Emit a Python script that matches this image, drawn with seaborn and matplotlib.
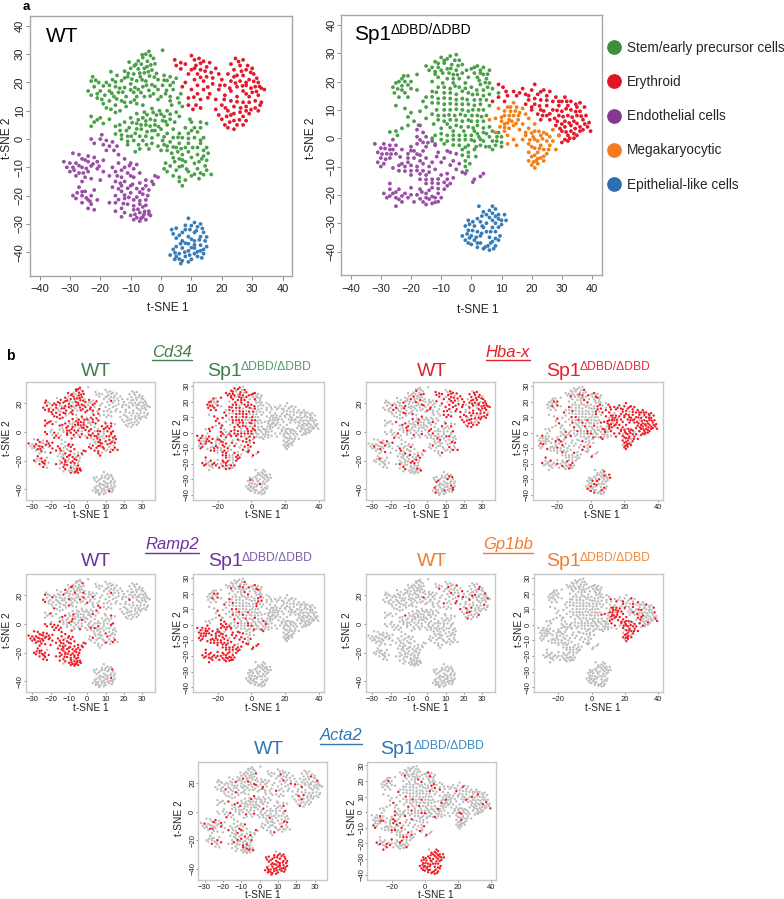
import numpy as np
import pandas as pd
import matplotlib
matplotlib.use('Agg')
import matplotlib.pyplot as plt
from matplotlib.lines import Line2D
import seaborn as sns

# cell positions (t-SNE 1, t-SNE 2)
wt_green = [(0.5,31.4),(-4,31),(-5,30),(-3.5,29.5),(-6,28.8),(-2.5,28.5),(-7.5,27.6),(-4.5,27.5),(-10.5,27.2),(-2,26.6),(-6.5,26.5),(-8.8,25.9),(-4.6,25.6),(-10,25),(-7.5,24.8),(-3,24.4),
(-16.5,23.8),(-12,24),(-5.5,23.4),(-9,23),(-1.5,23.2),(-14.5,22.5),(-11,22),(-6.8,22),(-3.8,22.3),(1,22.5),(3,22),(-22.5,22),(-16,21),(-13,20.6),(-8,20.6),(-5,20.5),(-1,21),(2,20.7),(5,21.5),
(-23,20.5),(-20.5,20),(-18,20),(-10,19.5),(-3,19.2),(0.5,19),(3,19),(-22,18.5),(-15,18.5),(-12,18.2),(-6,18.5),(-7.5,17.5),(-4,17.2),(-1,17.5),(1.8,17.2),(4,17.5),(6.5,16),
(-24,17),(-20,17),(-17,17),(-14,16.5),(-9,16.5),(-2.5,16),(-23,15.5),(-18.5,15.5),(-15.5,15),(-11.5,15),(-8,15),(-5.5,15),(0,15),(3,15),(5.5,14.5),
(-21,14.5),(-17,13.5),(-13,13.5),(-10,13),(-19,12.5),(-15,12),(-11.5,11.5),(-8,12.5),(3.5,12),(7,11.5),(-16.5,10.5),(-13.5,10),(-3,10.8),(-0.5,10),(2,10),(5,9.5),
(-5.5,9.5),(-8,9),(-1.5,8.5),(1,8),(-23,8),(-20,7.5),(-17,7),(-10,7.5),(-6,7.5),(-3.5,7),(0.5,6.5),(3,7),(6,8),(9.5,7),
(-22,6),(-19,5.5),(-12,6),(-8,5.5),(-5,5),(-2,5),(2,5),(10,6),(13,6),(15,5.5),(-23,4.5),(-15,4.5),(-10.5,4),(-6.5,3.5),(-3,3),(0,3.5),(4,3.5),(8,4),(11,4),
(-13.5,3),(-8.5,2),(-1,1.5),(2,2),(6,2),(9,2),(12,2.5),(-15,1.8),(-11,1),(-5,1),(4,0.5),(7,0.5),(11,0.5),(14,0.5),(-13,0),(-9,-0.5),(-6,-0.5),(0.5,-0.5),(3,-1),(6,-1.5),(9,-1.5),(13,-1.5),
(-11,-2),(-3,-1.5),(-1,-2.5),(2,-2.5),(5,-3),(8,-3),(12,-3),(15,-3),(-7,-3.5),(-4,-3.5),(0,-4),(5.5,-4.5),(9,-4.5),(15.5,-5),(-8.5,-4.5),(3.5,-5),(7,-5.5),(12,-5.5),(14,-6),
(6,-7),(10,-6.5),(15,-7.5),(4.5,-8),(8,-8),(12.5,-8),(1.5,-8.5),(3,-9.5),(7,-9.5),(14.5,-9.5),(1,-10.5),(5,-11),(12,-10.5),(15,-11),(2,-11.5),(9,-11.5),(13,-12),(16.5,-12.5),(6,-13.5),(10,-13),(12.5,-14),(6,-15),(8,-14.5),(7,-16.5),
(-6.2,29.8),(-8.3,26.4),(-5.5,25),(-3.4,26.2),(-7,23.3),(-10.8,23.2),(-4.2,23.8),(-2.2,21.9),(-6.2,20.9),(-9.6,21.2),(-12,21.6),(-15,20.2),(-21.5,20.8),(-19,18.8),(-17,19),(-13.6,18),(-8.6,18.2),(-4.8,19),(-2,18.6),(1,20.8),(4,20),(-21,16),(-16.2,16.2),(-12.6,16.6),(-10,17.4),(-6.6,16.4),(-3.6,15.2),(-1,14),(1.5,16),(3,13.5),(6,12.8),
(-19.5,14),(-14.6,14.2),(-12,13),(-8.8,13.8),(-6,12),(-18,11),(-15,9.4),(-4.6,8.6),(-2.6,9.4),(0,8.8),(3,8.8),(-7.5,6.8),(-5,6.4),(-2,6.6),(1.5,6.2),(4.5,6),(-21,6.8),(-13.6,5),(-9.5,5.8),(-6.6,5),(-3.6,4.6),(-0.8,4.4),(-11.4,3),(-8,3.6),(-4.6,2.6),(-2,3),(10,3),(13,4),(-13,1.4),(-9.8,1),(-7,1),(-3,0.4),(1,0.8),(5.6,0.6),(9,0.2),(13,-0.4),(-11,-0.8),(-7.4,-2),(-4.8,-2),(1,-2),(4,-2.8),(6.6,-3.4),(10.4,-3),(14,-4),(2,-4),(7,-7.4),(11,-8.6),(13.4,-7),(4,-6.6),(8.4,-10.6),(6,-9.8),(11,-12.4),(14,-12.6),(4,-13)]
wt_red = [(10,29.5),(12.5,28.5),(4.5,28),(14,27.5),(16,27),(24.5,28.5),(27,28),(5,26),(8,26.5),(11.5,26),(15,25.5),(18,25),(23,26.5),(26,26),(6.5,24.8),(10,24.5),(13,24.5),(16.5,23.5),(24,24.5),(28,24.5),(30,25),
(9,23),(12,23),(15,22),(19,23),(22,23),(25,22.5),(27,22.5),(30.5,23),(31.5,21.5),(11,21),(14,20.5),(20,21),(23,20.5),(26,20.5),(29,21),(32,20),(8,20),(12,19),(17,19.5),(21,19),(25,18.5),(28,19),(31,18.5),(33,18),
(7,18.5),(10,17.5),(14,17.5),(19,17.5),(23,17),(27,17),(30,16.5),(34,17.5),(12,16),(16,16),(21,15.5),(25,15),(29,15),(32,15.5),(9,14.5),(13,14),(18,14),(23,13.5),(27,13),(31,13.5),(33,13),
(9,12),(11.5,12),(20,12),(24,11.5),(28,11.5),(31,11),(10.5,10.5),(13,11),(18,10.5),(22,10),(26,9.5),(32,10),(19,8.5),(23,8.5),(27,8),(29,9),(20,7),(24,6.5),(28,6.5),(21,5),(25,5),(27,5),(24,3.5),(22,4),
(11,28),(6.5,27),(13,26.8),(25.5,27.4),(28.5,26),(11,25),(14.5,24),(26.5,24),(29.5,23.6),(13,21.8),(17,21.6),(24,22),(28,20),(30.5,20.4),(24.5,19.8),(26.8,18.8),(29.6,18),(32.4,18.6),(15.4,18.4),(19.4,19),(22.6,18),(28,16),(31.4,16.8),(10.8,14.8),(15.4,14.6),(20.8,14),(25,13.2),(29,13),(32.6,12),(21.2,11),(26.2,11),(29.6,10.4),(24,9),(28,10),(21.6,8),(25.8,6.8),(22.6,6)]
wt_purple = [(-19.5,1.5),(-23,0),(-20,0),(-18,-0.5),(-16,-1),(-22,-1.5),(-19,-2),(-17,-2.5),(-14.5,-2.5),(-18,-4),(-15.5,-4),(-29,-5),(-27,-5.5),(-24,-6),(-22,-6.5),(-14,-5.5),
(-26,-7),(-24,-8),(-21,-8),(-19,-7.5),(-12,-7),(-32,-8),(-30,-8.5),(-28,-8.5),(-23,-9.5),(-10,-8.5),(-14,-8.5),(-8,-9),(-31,-10),(-29,-10),(-26,-10),(-21,-10.5),(-16,-10),(-12,-10),(-9,-10.5),
(-30,-11.5),(-27,-12),(-24,-11.5),(-19,-11.5),(-15,-11.5),(-11,-12),(-7,-12),(-28,-13),(-25,-13.5),(-23,-14),(-17,-13),(-13,-13.5),(-9,-13.5),(-5,-14.5),(-2,-13),(-1,-13.5),(-26,-15),(-20,-14.5),(-15,-15),(-12,-15),(-7,-15.5),(-3,-15),
(-13,-16.5),(-10,-16.5),(-5,-16.5),(-2.5,-16),(-27,-17),(-16,-17),(-8,-17.5),(-4,-18),(-25,-18.5),(-22,-18),(-13,-18.5),(-10,-19),(-6,-19.5),(-29,-20),(-26,-20),(-23,-20),(-15,-20),(-8,-20.5),
(-28,-21),(-24,-21.5),(-21,-21.5),(-12,-21),(-9,-21.5),(-5,-21.5),(-26,-22.5),(-23,-23),(-17,-22.5),(-15,-22.5),(-11,-23),(-7,-23),(-24,-24.5),(-22,-25),(-13,-24.5),(-9,-25),(-6,-24),(-4,-25.5),
(-15,-25.5),(-12,-26),(-7,-26),(-4,-26.5),(-10,-27),(-6,-27.5),(-3.5,-27),(-13,-27.5),(-9,-28.5),(-7,-29),(-5,-28.5),
(-25,-7.4),(-22.4,-8.8),(-27,-9.4),(-24.6,-10.4),(-28.6,-11),(-25.6,-12),(-20.4,-9.6),(-13,-11),(-10.4,-9.4),(-10,-13),(-14.4,-13),(-13.4,-15.6),(-11,-17.4),(-14,-17.6),(-12,-19.8),(-9.4,-16),(-6,-17.6),(-7,-18.8),(-4.4,-20),(-24.6,-20.8),(-26,-18.6),(-23.4,-22),(-27.6,-19),(-14,-21.4),(-10.6,-20.6),(-7,-21.8),(-12.4,-22.8),(-9,-23.6),(-5,-23.4),(-7.6,-24.8),(-5.4,-25.6),(-8.6,-26.6),(-5.6,-26.6),(-8,-27.8),(-6.6,-28)]
wt_blue = [(9,-28),(11,-29.5),(13,-30),(8,-30.5),(12,-31),(9.5,-32),(5,-31.5),(3.5,-32),(7,-33),(11,-33),(14,-33),(4,-33.5),(9,-34.5),(13,-34.5),(5,-35),(7,-36),(11,-36),(14.5,-36),(9,-37),(13,-37.5),
(5,-38),(7,-38.5),(11,-38.5),(15,-38),(4,-39),(9,-39.5),(13,-39.5),(6,-40.5),(11,-40.5),(14,-40.5),(3,-41),(5,-41.5),(8,-41.5),(12,-41.5),(4.5,-42.5),(7,-43),(10,-42.5),(6.5,-44),
(10,-30.6),(13.6,-31.6),(11.6,-32.4),(8,-32),(12.6,-35.6),(10,-35.4),(6,-34),(15,-34.6),(8,-36.8),(11,-37.4),(6.4,-37),(14,-39),(10,-38.4),(7.8,-40),(12,-39.8),(4.6,-40.2),(9.4,-41),(13.4,-42),(6,-42.4),(9,-43.4)]

ko_green = [(-5,29.5),(-10,28.5),(-8,28),(-5.5,27.5),(-4,27.5),(-12,27),(-9,26.5),(-6.5,26),(-3,26),(2,25.5),(4,25),(-15,25.5),(-11,25),(-8,24.5),(-5,24),(0,24.5),(3,24),(6,24),
(-14,24),(-12,23.5),(-9.5,23),(-6,22.5),(-3,23),(1,23),(4,22.5),(-18,22.5),(-21,22),(-11,21.5),(-8,21),(-4,21),(-1,21.5),(2,21.5),(5,21),(-23,21),(-20,20),(-25,19.5),(-13,20),(-9.5,19.5),(-6,19.5),(-2,19.5),(3,19),(6,19.5),
(-26,18),(-23,18.5),(-20,17.5),(-11,18),(-7,17.5),(-4,18),(0,18),(4,17),(7,17.5),(-25.5,16),(-22,16),(-18,17),(-13,16.5),(-9,16),(-5,15.5),(-1,16),(2,15.5),(6,15.5),(9,16),
(-24,14.5),(-21,14.5),(-15,14.5),(-11,14),(-7,14),(-3,14),(1,13.5),(5,13.5),(-16,13),(-13,12.5),(-9,12),(-5,12),(-1,12),(3,12),(6,11.5),(-25,11.5),(-22,10.5),(-15,11),(-11.5,10),(-7,10),(-3,10),(0.5,10),(4,10),
(-20,9),(-17,9.5),(-13,8.5),(-9,8),(-5.5,8),(-2,8),(2,8),(5,8),(-21,7.5),(-15,7),(-11,6.5),(-7,6.5),(-3,6),(0,6),(4,6),(-19,6),(-12.5,5),(-8,5),(-5,4.5),(-1,4),(2,4.5),(6,4),
(-21,4.5),(-23,3.5),(-25,2.5),(-10,3.5),(-6,2.5),(-2.5,2.5),(1,2.5),(4,2),(7,2.5),(9,2),(-27,2.2),(-24.5,1),(-12,1),(-8,1),(-4,1),(0,1),(2.5,0.5),(6,0.5),(8.5,0.5),(10,0.5),
(-13,0),(-10,-0.5),(-6,-0.5),(-2,-0.5),(1,-1),(4,-1),(7,-1),(10,-1.5),(-12,-2),(-9,-2),(-4,-2.5),(-1,-2.5),(3,-2.5),(6,-3),(8,-2.5),(-3,-4),(-1,-5),(1,-4),(7,-4),(-3,-6),(-1,-6.5),(1.5,-6.5),(-2,-8),(-0.5,-9),(-2,-10),(-1.5,-11.5),
(-7,29),(-9,27.4),(-6.8,24.6),(-11,26.4),(-4.4,25.6),(-13,25),(1,25),(3,23),(5.4,22.6),(-10,24),(-7.4,23),(-4.6,22.4),(-1.6,24),(2.6,20.4),(4.6,19.6),(-12,22.6),(-6,21),(-22,20),(-24,20),(-22.4,22),(-24.4,17.4),(-21,18.8),(-23,17),(-9,18),(-5.4,18.4),(-2,17.6),(1.8,17),(5.4,18),(-11.6,16.2),(-7,16),(-3,16.6),(0.4,15.4),(4,15),(-13,14.6),(-9,14.2),(-5,13.6),(-1.4,13.6),(3,13.6),(-11,12.4),(-7,12.2),(-3,12),(1,11.6),(-9,10),(-5,10.2),(-1,9.6),(2.4,10),(-11,8),(-7.4,8.2),(-3.6,8.4),(0.2,8),(3.4,7.6),(-9,6),(-5,6.4),(-1,6.4),(2,6),(-17.5,4.6),(-7,3.8),(-3.4,4),(0.6,3.6),(4,3.6),(-10,1.6),(-6,1),(-2,1),(2,1.6),(5,1.6),(-8,-1),(-4,-0.6),(0,-0.6),(3,-0.4),(8.4,-1),(-6,-2.4),(-2,-3.2),(1.6,-3),(4.8,-3),(10,-3)]
ko_red = [(9,19),(10.5,18),(21,19),(11.5,16.5),(14,16.5),(17,17.5),(20,17),(24,17),(26,16.5),(9,14.5),(12,15),(15,15),(18,15.5),(22,15.5),(25,15),(28,14.5),(31,14.5),(7,13),(11,13),(19,13.5),(23,13.5),(27,13),(30,13),(33,13),(36,12.5),
(18,12),(21,12),(25,11.5),(29,11.5),(32,11.5),(35,11),(37.5,11),(20,10),(23,10),(27,10),(30,9.5),(33,10),(36,9.5),(22,8.5),(25,8),(29,8),(32,8),(35,8),(38,8),(23,6.5),(26,6.5),(28.5,6),(31,6),(34,6),(37,6.5),(39,5.5),
(28,4.5),(31,4),(33,4.5),(36,4),(38.5,4),(30,2.5),(33,2.5),(36,2.5),(39.5,2.5),(29,1),(32,1),(35,1),(31,-0.5),(34,0),(30,-1.5),(32,-1),
(19,15),(16,16),(23,16.4),(21,14),(25,13.4),(29,13),(31.6,13),(34.6,12),(20,11),(22.6,11.4),(24,9.6),(26,8.6),(28.4,9.8),(31.4,10.4),(34.6,9.4),(23.6,8),(27.6,7),(30.4,7.6),(33.4,7.4),(36.4,7.8),(30,5),(32.4,5.4),(35,5.2),(37.6,5),(29.4,3.4),(34.4,3.4),(37,3),(31.4,2.2),(34,1.6),(32.6,0)]
ko_orange = [(14,12.5),(12,11),(15,11),(17,10.5),(9,10.5),(13,9.5),(16,9),(11,8),(14,8),(18,8.5),(8,7),(6,6.5),(10,6),(12.5,6.5),(15.5,6.5),(19,7),(11,5),(14,4.5),(17,5),(21,5),(9.5,4),(12.5,3.5),(16,3),(19,3.5),(8,2),(11,2.5),(21,2.5),(24,2),(27,3),
(12,1),(18,1),(20.5,0.5),(23,1),(26,0.5),(29,1),(14,-0.5),(17,-0.5),(22,-1),(25,-1),(27,-1),(12,-2),(19,-2),(23,-2.5),(26,-2.5),(15,-2.5),(21,-3.5),(24,-4),(28,-4),(19,-5),(22,-5),(25,-5.5),(20,-6.5),(23,-7),(19,-8),(21.5,-8),(24,-8),(20,-9.5),(22,-9),(21,-10.5),
(13,11),(11,9.6),(14.6,9.6),(12.6,8),(15.6,8),(10,7.4),(12,5.4),(13.4,6),(14.8,5.2),(11,3.8),(18,2),(20,1.8),(22.4,2.4),(25,1.4),(19.4,-0.6),(21,-0.4),(23.6,-0.2),(20,-3),(22.6,-3.6),(25.6,-4),(21,-6),(24,-6.4),(22,-7.2),(20.6,-8.4)]
ko_purple = [(-17,4.5),(-18,3),(-16,2),(-18,0.5),(-15,0.5),(-13,-1),(-16,-1.5),(-18,-2),(-26,-0.5),(-29,-2),(-32,-2),(-27,-2.5),(-25,-2.5),(-20,-3),(-15,-3),(-12,-2.5),(-30,-3.5),(-27,-4),(-23,-4),(-19,-4.5),(-16,-4.5),(-31,-5),(-28,-5.5),(-25,-5.5),(-21,-5.5),(-17,-6),(-11,-5),(-8,-4.5),(-7,-5),
(-30,-7),(-27,-7),(-19,-7),(-11.5,-6.5),(-9,-7),(-5,-5.5),(-31,-8.5),(-29,-9),(-23,-9),(-21,-8.5),(-17,-8),(-13,-8.5),(-10,-8.5),(-6,-8),(-30,-10),(-26,-10.5),(-22,-10),(-18,-10),(-14,-10),(-7,-9.5),(-4,-9),(-24,-11.5),(-20,-11.5),(-16,-11.5),(-12,-11),(-5,-11),(-3,-12),(-2,-12.5),(-20,-13),(-15,-13),(-10,-13),(-8,-12.5),
(4,-12.5),(3,-13.5),(1,-14.5),(0.5,-15.5),(-17,-14.5),(-13,-14.5),(-8,-14.5),(-6,-14),(-27,-16),(-15,-16),(-11,-16),(-7,-16),(-27,-18),(-24,-18),(-20,-17.5),(-17,-18),(-13,-17.5),(-9,-18),(-29,-19.5),(-26,-19.5),(-22,-19.5),(-18,-20),(-15,-19.5),(-11,-19.5),(-28,-21),(-25,-21),(-21,-21),(-14,-21.5),(-12,-21),(-10,-21),(-23,-22.5),(-19,-22.5),(-16,-22.5),(-13,-23),(-25,-24),
(-17,-0.6),(-14.4,-1.6),(-20,-4.4),(-18,-5.6),(-28.6,-3.6),(-26,-4),(-29.6,-5.6),(-26.6,-5.6),(-28.4,-7.4),(-23.6,-6.6),(-21,-7),(-15,-7),(-24,-9.6),(-20,-9.6),(-16,-9),(-18,-11.4),(-22,-11.6),(-14,-12),(-17,-12.6),(-13,-15.8),(-15,-14.6),(-11,-14.4),(-9,-15.6),(-14,-18.4),(-11,-17.8),(-8,-16.8),(-25,-19),(-23,-20.4),(-20,-20),(-16.4,-19),(-13,-20.6),(-27,-20.4),(-24,-21.6),(-17,-21.4),(-15,-21),(-11,-22.4),(-15,-23.4),(-12,-22.6)]
ko_blue = [(2.5,-24),(7,-24),(6,-25.5),(8,-25),(4,-26),(7,-26.5),(9,-27),(11,-27),(3.5,-27.5),(6,-28),(9,-28.5),(11.5,-29),(-1,-29),(0.5,-29.5),(3,-29.5),(5,-30),(8,-30),(10,-30.5),(-2,-31),(1,-31),(4,-31.5),(7,-31.5),(-1,-32.5),(2,-33),(5,-33),(8,-33),(-3,-34.5),(0,-34.5),(3,-34.5),(6,-35),(9.5,-34.5),
(-2,-36),(1,-36),(7,-36.5),(9,-36),(0,-37.5),(3,-37),(5.5,-38),(8,-38),(2,-38.5),(4,-39),(6,-39.5),
(5,-27),(8,-27.6),(10,-29),(7,-29),(2,-28.4),(3.6,-31),(9,-31.4),(-0.6,-30.4),(0.4,-32.6),(3.4,-33.6),(6.4,-33),(-1.4,-33.8),(1.6,-35),(8,-35.4),(-0.6,-35.2),(-1,-37),(2,-37),(6.4,-37),(4.6,-38.4),(7.4,-39)]

cluster_names = ['Stem/early precursor cells', 'Erythroid', 'Endothelial cells', 'Megakaryocytic', 'Epithelial-like cells']
cluster_colors = ['#4ba14a', '#e41a2c', '#9a4ea6', '#f57f17', '#377eb8']
legend_colors = ['#3c8f40', '#e01424', '#84398f', '#f47b20', '#2f6fb0']

# share of cells in each cluster that express the gene (green, red, purple, orange, blue)
cd34_wt = [0.70, 0.01, 0.55, 0.0, 0.03]
cd34_ko = [0.70, 0.01, 0.55, 0.01, 0.04]
hba_wt = [0.20, 0.80, 0.20, 0.0, 0.20]
hba_ko = [0.20, 0.95, 0.20, 0.85, 0.25]
ramp2_wt = [0.17, 0.02, 0.97, 0.0, 0.05]
ramp2_ko = [0.20, 0.0, 0.95, 0.0, 0.01]
gp1bb_wt = [0.01, 0.20, 0.0, 0.0, 0.0]
gp1bb_ko = [0.0, 0.25, 0.0, 0.75, 0.0]
acta2_wt = [0.10, 0.10, 0.22, 0.0, 0.95]
acta2_ko = [0.10, 0.10, 0.25, 0.08, 0.97]
# Cd34 in the mutant fades out towards the right of the green cluster
cd34_ko_green_xmax = 2

main_ticks = [-40, -30, -20, -10, 0, 10, 20, 30, 40]
small_wt_xticks = [-30, -20, -10, 0, 10, 20, 30]
small_wt_yticks = [-40, -20, 0, 20]
small_ko_xticks = [-20, 0, 20, 40]
small_ko_yticks = [-40, -30, -20, -10, 0, 10, 20, 30]

W, H = 784, 899
FONT = 'Liberation Sans'
EXPR = '#ee1c25'
GREY = '#bdbdbd'


def make_cells(groups):
    frames = []
    for name, pts in zip(cluster_names, groups):
        if pts:
            frames.append(pd.DataFrame(pts, columns=['x', 'y']).assign(cluster=name))
    return pd.concat(frames, ignore_index=True)


def mark_expressed(df, shares, green_xmax=None):
    # spread the expressing cells evenly through each cluster
    flags = np.zeros(len(df), dtype=bool)
    for name, share in zip(cluster_names, shares):
        idx = np.where(df['cluster'] == name)[0]
        n = np.arange(len(idx))
        flags[idx] = np.floor((n + 1) * share) > np.floor(n * share)
    if green_xmax is not None:
        flags[(df['cluster'] == cluster_names[0]) & (df['x'] > green_xmax)] = False
    return df.assign(expressed=flags).sort_values('expressed')


def new_axes(left, right, top, bottom):
    return fig.add_axes([left / W, 1 - bottom / H, (right - left) / W, (bottom - top) / H])


def label_px(x, y, s, **kw):
    return fig.text(x / W, 1 - y / H, s, family=FONT, **kw)


def style_axes(ax, xticks, yticks, xlim, ylim, frame, tick_size, label_size, xlab_x, xlab_y, ylab_x, ylab_y, tlen, pad, ypad):
    ax.set_xlim(*xlim)
    ax.set_ylim(*ylim)
    ax.set_xticks(xticks)
    ax.set_yticks(yticks)
    ax.set_xlabel('t-SNE 1', fontsize=label_size, family=FONT, color='#222222', va='center')
    ax.set_ylabel('t-SNE 2', fontsize=label_size, family=FONT, color='#222222', va='center')
    box = ax.get_position()
    ax.xaxis.set_label_coords((xlab_x / W - box.x0) / box.width, ((1 - xlab_y / H) - box.y0) / box.height)
    ax.yaxis.set_label_coords((ylab_x / W - box.x0) / box.width, ((1 - ylab_y / H) - box.y0) / box.height)
    ax.tick_params(axis='both', labelsize=tick_size, length=tlen, width=0.6, color='#777777', labelcolor='#222222')
    ax.tick_params(axis='x', pad=pad)
    ax.tick_params(axis='y', pad=ypad)
    for lab in ax.get_yticklabels():
        lab.set_rotation(90)
        lab.set_va('center')
    for lab in ax.get_xticklabels() + ax.get_yticklabels():
        lab.set_family(FONT)
    for sp in ax.spines.values():
        sp.set_color(frame)
        sp.set_linewidth(1.0)


def sp1_title(x, y, color, sup_color, big, small, dx, dy):
    label_px(x, y, 'Sp1', fontsize=big, color=color, va='center', ha='left')
    label_px(x + dx, y - dy, '\u0394DBD/\u0394DBD', fontsize=small, color=sup_color, va='center', ha='left')


def gene_title(cx, cy, name, color):
    t = label_px(cx, cy, name, fontsize=12, style='italic', color=color, ha='center', va='center')
    fig.canvas.draw()
    box = t.get_window_extent()
    fig.add_artist(Line2D([box.x0 / W, box.x1 / W], [1 - (cy + 8) / H] * 2, color=color, lw=1.0))


sns.set_theme(style='ticks')
plt.rcParams['font.family'] = [FONT, 'DejaVu Sans']
fig = plt.figure(figsize=(W / 100, H / 100), dpi=100)

wt_cells = make_cells([wt_green, wt_red, wt_purple, [], wt_blue])
ko_cells = make_cells([ko_green, ko_red, ko_purple, ko_orange, ko_blue])
palette = dict(zip(cluster_names, cluster_colors))

# panel a
ax_wt = new_axes(29.5, 292, 16, 276)
sns.scatterplot(data=wt_cells, x='x', y='y', hue='cluster', palette=palette, s=7.5, linewidth=0, legend=False, ax=ax_wt)
style_axes(ax_wt, main_ticks, main_ticks, (-43.3, 43.1), (-48.4, 43.5), '#a6a6a6', 8, 8.6, 168, 308, 6.5, 138, 3, 3, 0.5)

ax_ko = new_axes(341.3, 601.7, 14.7, 275.3)
sns.scatterplot(data=ko_cells, x='x', y='y', hue='cluster', palette=palette, s=7.5, linewidth=0, legend=False, ax=ax_ko)
style_axes(ax_ko, main_ticks, main_ticks, (-43.1, 43.2), (-48.4, 43.6), '#a6a6a6', 8, 8.6, 477.7, 310, 311, 138, 3, 3, 0.5)

handles = [Line2D([], [], marker='o', ls='', color=c, markersize=10.6, markeredgewidth=0) for c in legend_colors]
fig.legend(handles, cluster_names, loc='upper left', bbox_to_anchor=(600 / W, 1 - 41 / H), frameon=False,
           labelspacing=1.48, handletextpad=0.0, borderpad=0, borderaxespad=0,
           prop={'family': FONT, 'size': 9.8})

label_px(23, 6.5, 'a', fontsize=9.5, weight='bold', color='black', va='center')
label_px(6, 356, 'b', fontsize=10, weight='bold', color='black', va='center')
label_px(46, 36, 'WT', fontsize=15, color='black', va='center')
sp1_title(354, 34, 'black', 'black', 15, 10, 37, 4)

# panel b, one pair of maps per gene
panels = [
    ('Cd34', '#3f7f4f', '#5a9a6a', cd34_wt, cd34_ko, cd34_ko_green_xmax, 172, 352, 371, (26, 155, 192.7, 324), 382.3, 500, 96, 207),
    ('Hba-x', '#e3202a', '#e3303a', hba_wt, hba_ko, None, 508, 352, 371, (366, 495, 532.7, 662.7), 382.3, 500, 432, 546),
    ('Ramp2', '#7030a0', '#7e5fa6', ramp2_wt, ramp2_ko, None, 172, 545, 562, (26, 155, 192.7, 324), 574.3, 692.3, 96, 208),
    ('Gp1bb', '#ed7d31', '#ef8a3c', gp1bb_wt, gp1bb_ko, None, 508, 545, 562, (366, 495, 534, 662.7), 574.3, 692.3, 432, 546),
    ('Acta2', '#2e75b6', '#3c8ac4', acta2_wt, acta2_ko, None, 341, 736, 750, (198.3, 327.3, 367.3, 496), 761.7, 879.7, 268.7, 380),
]
for gene, col, sup_col, share_wt, share_ko, xmax, gx, gy, ty, edges, top, bottom, wt_x, sp_x in panels:
    gene_title(gx, gy, gene, col)
    label_px(wt_x, ty, 'WT', fontsize=14, color=col, ha='center', va='center')
    sp1_title(sp_x, ty, col, sup_col, 14, 8.7, 34, 4)

    ax1 = new_axes(edges[0], edges[1], top, bottom)
    sns.scatterplot(data=mark_expressed(wt_cells, share_wt), x='x', y='y', hue='expressed',
                    palette={False: GREY, True: EXPR}, s=3, linewidth=0, legend=False, ax=ax1)
    style_axes(ax1, small_wt_xticks, small_wt_yticks, (-33.4, 36.9), (-47.6, 34.8), '#c8c8c8', 5.5, 7.3,
               (edges[0] + edges[1]) / 2, bottom + 15.5, edges[0] - 19, top + 56, 1.5, 1.5, 0)

    ax2 = new_axes(edges[2], edges[3], top, bottom)
    sns.scatterplot(data=mark_expressed(ko_cells, share_ko, xmax), x='x', y='y', hue='expressed',
                    palette={False: GREY, True: EXPR}, s=3, linewidth=0, legend=False, ax=ax2)
    style_axes(ax2, small_ko_xticks, small_ko_yticks, (-34.7, 42.9), (-43.3, 32.4), '#c8c8c8', 5.5, 7.3,
               (edges[2] + edges[3]) / 2 + 4, bottom + 15.5, edges[2] - 15, top + 55, 1.5, 1.5, 0)

fig.savefig('out.png', dpi=100)
